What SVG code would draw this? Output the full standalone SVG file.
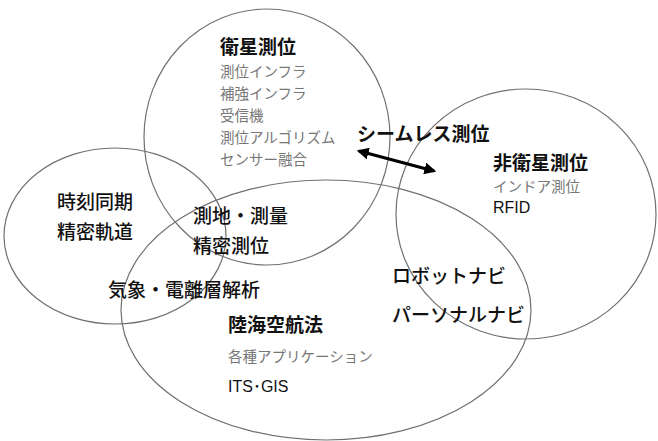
<svg xmlns="http://www.w3.org/2000/svg" width="658" height="441" viewBox="0 0 658 441">
<style>
.c{fill:none;stroke:#707070;stroke-width:1.2}
text{font-family:"Noto Sans CJK JP","Noto Sans",sans-serif}
.h{font-size:19px;font-weight:bold;fill:#111}
.b{font-size:19px;font-weight:500;fill:#111}
.g{font-size:14.5px;fill:#777}
.s{font-size:16px;fill:#111;font-family:"Liberation Sans","Noto Sans CJK JP",sans-serif}
</style>
<defs>
<marker id="ah" viewBox="0 0 10 10" refX="8" refY="5" markerWidth="4" markerHeight="4" orient="auto-start-reverse">
<path d="M0,0L10,5L0,10z" fill="#000"/>
</marker>
</defs>
<rect width="658" height="441" fill="#fff"/>
<g id="satellite">
<ellipse class="c" cx="267" cy="137" rx="123" ry="128"/>
<text class="h" x="220" y="54">衛星測位</text>
<text class="g" x="220" y="77">測位インフラ</text>
<text class="g" x="220" y="99">補強インフラ</text>
<text class="g" x="220" y="121">受信機</text>
<text class="g" x="220" y="143">測位アルゴリズム</text>
<text class="g" x="220" y="165">センサー融合</text>
</g>
<g id="time">
<ellipse class="c" cx="115" cy="236" rx="111" ry="88"/>
<text class="b" x="57" y="209">時刻同期</text>
<text class="b" x="57" y="239">精密軌道</text>
</g>
<g id="navigation">
<ellipse class="c" cx="326" cy="310" rx="205" ry="130"/>
<text class="h" x="228" y="332">陸海空航法</text>
<text class="g" x="228" y="362">各種アプリケーション</text>
<text class="s" x="228" y="392">ITS･GIS</text>
</g>
<g id="nonsatellite">
<ellipse class="c" cx="526" cy="214" rx="130" ry="125"/>
<text class="h" x="493" y="170">非衛星測位</text>
<text class="g" x="493" y="192">インドア測位</text>
<text class="s" x="493" y="213">RFID</text>
</g>
<g id="overlaps">
<text class="b" x="193" y="223">測地・測量</text>
<text class="b" x="193" y="253">精密測位</text>
<text class="b" x="108" y="297">気象・電離層解析</text>
<text class="b" x="392" y="283">ロボットナビ</text>
<text class="b" x="392" y="322">パーソナルナビ</text>
<text class="h" x="357" y="141">シームレス測位</text>
</g>
<g id="connectors">
<line x1="359" y1="151" x2="434" y2="171" stroke="#000" stroke-width="3" marker-start="url(#ah)" marker-end="url(#ah)"/>
</g>
</svg>
